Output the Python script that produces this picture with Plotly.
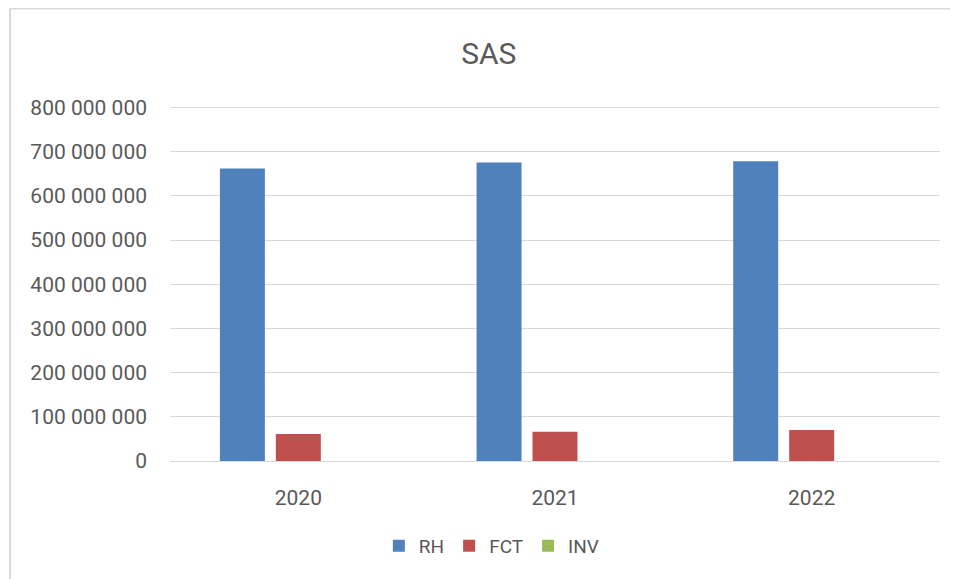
import plotly.graph_objects as go

years = ["2020", "2021", "2022"]
rh = [662000000, 675500000, 678500000]
fct = [61000000, 66000000, 70000000]
inv = [0, 0, 0]
y_ticks = [0, 100000000, 200000000, 300000000, 400000000, 500000000, 600000000, 700000000, 800000000]

font_family = "Roboto, 'Open Sans', Arial, sans-serif"
txt = "#595959"

fig = go.Figure()
fig.add_trace(go.Bar(name="RH", x=years, y=rh, marker=dict(color="#4f81bd", line=dict(width=0))))
fig.add_trace(go.Bar(name="FCT", x=years, y=fct, marker=dict(color="#c0504d", line=dict(width=0))))
fig.add_trace(go.Bar(name="INV", x=years, y=inv, marker=dict(color="#9bbb59", line=dict(width=0))))

fig.update_layout(
    width=950, height=571,
    margin=dict(l=162, r=18, t=99, b=118),
    paper_bgcolor="white", plot_bgcolor="white",
    separators=", ",
    barmode="group", bargap=0.346, bargroupgap=0.196,
    title=dict(text="SAS", x=0.414, xanchor="center", xref="paper", y=0.92, yanchor="middle",
               font=dict(family=font_family, size=30, color=txt)),
    font=dict(family=font_family, size=21, color=txt),
    legend=dict(orientation="h", x=0.418, xanchor="center", y=-0.24, yanchor="middle",
                font=dict(size=19, color=txt), itemwidth=30, traceorder="normal"),
    xaxis=dict(showgrid=False, showline=True, linecolor="#d9d9d9", linewidth=1,
               ticks="", ticklabelstandoff=18, tickfont=dict(size=21, color=txt)),
    yaxis=dict(range=[0, 801000000], tickvals=y_ticks, tickformat=",d",
               showgrid=True, gridcolor="#d9d9d9", gridwidth=1,
               zeroline=True, zerolinecolor="#d9d9d9", zerolinewidth=1,
               showline=False, ticks="", ticklabelstandoff=22,
               tickfont=dict(size=21, color=txt)),
    shapes=[
        dict(type="line", xref="paper", yref="y", x0=0, x1=1, y0=y_ticks[-1], y1=y_ticks[-1],
             line=dict(color="#d9d9d9", width=1), layer="below"),
        dict(type="line", xref="paper", yref="paper", x0=-0.2078, x1=1.03, y0=1.2782, y1=1.2782,
             line=dict(color="#d9d9d9", width=2)),
        dict(type="line", xref="paper", yref="paper", x0=-0.2078, x1=-0.2078, y0=1.2782, y1=-0.36,
             line=dict(color="#d9d9d9", width=2)),
    ],
)

fig.write_html("out.html")
